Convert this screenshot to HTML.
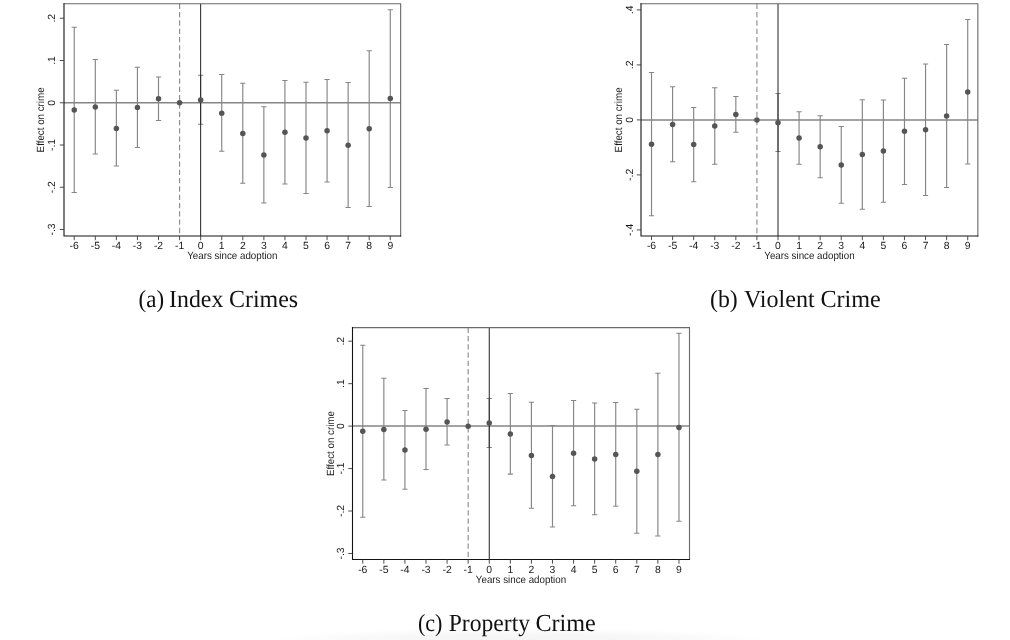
<!DOCTYPE html>
<html><head><meta charset="utf-8"><title>Event study figures</title>
<style>
html,body{margin:0;padding:0;background:#fff;}
body{width:1010px;height:640px;overflow:hidden;position:relative;}
svg{position:absolute;left:0;top:0;display:block;will-change:transform;opacity:0.999;}
svg text{font-family:"Liberation Sans",sans-serif;font-size:10.4px;fill:#1a1a1a;text-rendering:geometricPrecision;}
svg text.cap{font-family:"Liberation Serif",serif;font-size:24.6px;fill:#111;}
.shade{position:absolute;left:270px;top:628px;width:500px;height:12px;background:radial-gradient(ellipse 250px 12px at 50% 100%, rgba(0,0,0,0.045), rgba(0,0,0,0.03) 50%, rgba(0,0,0,0) 100%);}
</style></head>
<body>
<svg width="1010" height="640" viewBox="0 0 1010 640">
<g id="panel-a">
<line x1="179.58" y1="3.75" x2="179.58" y2="236.0" stroke="#8c8c8c" stroke-width="1.15" stroke-dasharray="5.3 3.0"/>
<line x1="64.0" y1="102.75" x2="400.65" y2="102.75" stroke="#858585" stroke-width="1.5"/>
<path d="M74.23 27.25V192.5M71.63 27.25H76.83M71.63 192.5H76.83" stroke="#858585" stroke-width="1.15" fill="none"/>
<path d="M95.30 59.5V154M92.70 59.5H97.90M92.70 154H97.90" stroke="#858585" stroke-width="1.15" fill="none"/>
<path d="M116.37 90.25V166M113.77 90.25H118.97M113.77 166H118.97" stroke="#858585" stroke-width="1.15" fill="none"/>
<path d="M137.44 67.25V147.5M134.84 67.25H140.04M134.84 147.5H140.04" stroke="#858585" stroke-width="1.15" fill="none"/>
<path d="M158.51 77V120.5M155.91 77H161.11M155.91 120.5H161.11" stroke="#858585" stroke-width="1.15" fill="none"/>
<path d="M200.65 75.25V124.25M198.05 75.25H203.25M198.05 124.25H203.25" stroke="#858585" stroke-width="1.15" fill="none"/>
<path d="M221.72 74.5V151.25M219.12 74.5H224.32M219.12 151.25H224.32" stroke="#858585" stroke-width="1.15" fill="none"/>
<path d="M242.79 83.25V183.25M240.19 83.25H245.39M240.19 183.25H245.39" stroke="#858585" stroke-width="1.15" fill="none"/>
<path d="M263.86 106.75V203M261.26 106.75H266.46M261.26 203H266.46" stroke="#858585" stroke-width="1.15" fill="none"/>
<path d="M284.93 80.5V184M282.33 80.5H287.53M282.33 184H287.53" stroke="#858585" stroke-width="1.15" fill="none"/>
<path d="M306.00 82.25V193.5M303.40 82.25H308.60M303.40 193.5H308.60" stroke="#858585" stroke-width="1.15" fill="none"/>
<path d="M327.07 79.5V182M324.47 79.5H329.67M324.47 182H329.67" stroke="#858585" stroke-width="1.15" fill="none"/>
<path d="M348.14 82.5V207.5M345.54 82.5H350.74M345.54 207.5H350.74" stroke="#858585" stroke-width="1.15" fill="none"/>
<path d="M369.21 50.75V206.5M366.61 50.75H371.81M366.61 206.5H371.81" stroke="#858585" stroke-width="1.15" fill="none"/>
<path d="M390.28 9.75V187.5M387.68 9.75H392.88M387.68 187.5H392.88" stroke="#858585" stroke-width="1.15" fill="none"/>
<line x1="200.65" y1="3.75" x2="200.65" y2="236.0" stroke="#222" stroke-width="1"/>
<circle cx="74.23" cy="110" r="2.75" fill="#555555"/>
<circle cx="95.30" cy="107" r="2.75" fill="#555555"/>
<circle cx="116.37" cy="128.5" r="2.75" fill="#555555"/>
<circle cx="137.44" cy="107.5" r="2.75" fill="#555555"/>
<circle cx="158.51" cy="98.75" r="2.75" fill="#555555"/>
<circle cx="179.58" cy="102.75" r="2.75" fill="#555555"/>
<circle cx="200.65" cy="100" r="2.75" fill="#555555"/>
<circle cx="221.72" cy="113.25" r="2.75" fill="#555555"/>
<circle cx="242.79" cy="133.5" r="2.75" fill="#555555"/>
<circle cx="263.86" cy="155" r="2.75" fill="#555555"/>
<circle cx="284.93" cy="132.25" r="2.75" fill="#555555"/>
<circle cx="306.00" cy="138" r="2.75" fill="#555555"/>
<circle cx="327.07" cy="130.75" r="2.75" fill="#555555"/>
<circle cx="348.14" cy="145.25" r="2.75" fill="#555555"/>
<circle cx="369.21" cy="128.75" r="2.75" fill="#555555"/>
<circle cx="390.28" cy="98.5" r="2.75" fill="#555555"/>
<path d="M64.0 3.75H400.65V236.0" fill="none" stroke="#686868" stroke-width="1.1" stroke-linecap="square"/>
<path d="M64.0 3.75V236.0H400.65" fill="none" stroke="#141414" stroke-width="1.1" stroke-linecap="square"/>
<path d="M74.23 236.0v4.2M95.30 236.0v4.2M116.37 236.0v4.2M137.44 236.0v4.2M158.51 236.0v4.2M179.58 236.0v4.2M200.65 236.0v4.2M221.72 236.0v4.2M242.79 236.0v4.2M263.86 236.0v4.2M284.93 236.0v4.2M306.00 236.0v4.2M327.07 236.0v4.2M348.14 236.0v4.2M369.21 236.0v4.2M390.28 236.0v4.2M64.0 18.25h-4.2M64.0 60.50h-4.2M64.0 102.75h-4.2M64.0 145.00h-4.2M64.0 187.25h-4.2M64.0 229.50h-4.2" stroke="#3a3a3a" stroke-width="0.9" fill="none"/>
<text x="74.23" y="248.7" text-anchor="middle">-6</text>
<text x="95.30" y="248.7" text-anchor="middle">-5</text>
<text x="116.37" y="248.7" text-anchor="middle">-4</text>
<text x="137.44" y="248.7" text-anchor="middle">-3</text>
<text x="158.51" y="248.7" text-anchor="middle">-2</text>
<text x="179.58" y="248.7" text-anchor="middle">-1</text>
<text x="200.65" y="248.7" text-anchor="middle">0</text>
<text x="221.72" y="248.7" text-anchor="middle">1</text>
<text x="242.79" y="248.7" text-anchor="middle">2</text>
<text x="263.86" y="248.7" text-anchor="middle">3</text>
<text x="284.93" y="248.7" text-anchor="middle">4</text>
<text x="306.00" y="248.7" text-anchor="middle">5</text>
<text x="327.07" y="248.7" text-anchor="middle">6</text>
<text x="348.14" y="248.7" text-anchor="middle">7</text>
<text x="369.21" y="248.7" text-anchor="middle">8</text>
<text x="390.28" y="248.7" text-anchor="middle">9</text>
<text x="232.32" y="259.2" text-anchor="middle" textLength="90.3" lengthAdjust="spacingAndGlyphs">Years since adoption</text>
<text transform="translate(54.7 18.25) rotate(-90)" text-anchor="middle">.2</text>
<text transform="translate(54.7 60.50) rotate(-90)" text-anchor="middle">.1</text>
<text transform="translate(54.7 102.75) rotate(-90)" text-anchor="middle">0</text>
<text transform="translate(54.7 145.00) rotate(-90)" text-anchor="middle">-.1</text>
<text transform="translate(54.7 187.25) rotate(-90)" text-anchor="middle">-.2</text>
<text transform="translate(54.7 229.50) rotate(-90)" text-anchor="middle">-.3</text>
<text transform="translate(44.3 119.88) rotate(-90)" text-anchor="middle" textLength="65" lengthAdjust="spacingAndGlyphs">Effect on crime</text>
</g>
<g id="panel-b">
<line x1="756.92" y1="3.75" x2="756.92" y2="236.0" stroke="#8c8c8c" stroke-width="1.15" stroke-dasharray="5.3 3.0"/>
<line x1="641.0" y1="119.9" x2="977.85" y2="119.9" stroke="#858585" stroke-width="1.5"/>
<path d="M651.52 72.5V215.75M648.92 72.5H654.12M648.92 215.75H654.12" stroke="#858585" stroke-width="1.15" fill="none"/>
<path d="M672.60 86.75V161.75M670.00 86.75H675.20M670.00 161.75H675.20" stroke="#858585" stroke-width="1.15" fill="none"/>
<path d="M693.68 107.5V181.75M691.08 107.5H696.28M691.08 181.75H696.28" stroke="#858585" stroke-width="1.15" fill="none"/>
<path d="M714.76 87.75V164.25M712.16 87.75H717.36M712.16 164.25H717.36" stroke="#858585" stroke-width="1.15" fill="none"/>
<path d="M735.84 96.5V132.25M733.24 96.5H738.44M733.24 132.25H738.44" stroke="#858585" stroke-width="1.15" fill="none"/>
<path d="M778.00 93.5V151.5M775.40 93.5H780.60M775.40 151.5H780.60" stroke="#858585" stroke-width="1.15" fill="none"/>
<path d="M799.08 111.75V164.25M796.48 111.75H801.68M796.48 164.25H801.68" stroke="#858585" stroke-width="1.15" fill="none"/>
<path d="M820.16 115.75V177.75M817.56 115.75H822.76M817.56 177.75H822.76" stroke="#858585" stroke-width="1.15" fill="none"/>
<path d="M841.24 126.5V203.25M838.64 126.5H843.84M838.64 203.25H843.84" stroke="#858585" stroke-width="1.15" fill="none"/>
<path d="M862.32 99.75V209.25M859.72 99.75H864.92M859.72 209.25H864.92" stroke="#858585" stroke-width="1.15" fill="none"/>
<path d="M883.40 100V202.25M880.80 100H886.00M880.80 202.25H886.00" stroke="#858585" stroke-width="1.15" fill="none"/>
<path d="M904.48 78.25V184.5M901.88 78.25H907.08M901.88 184.5H907.08" stroke="#858585" stroke-width="1.15" fill="none"/>
<path d="M925.56 64V195.5M922.96 64H928.16M922.96 195.5H928.16" stroke="#858585" stroke-width="1.15" fill="none"/>
<path d="M946.64 44.5V187.5M944.04 44.5H949.24M944.04 187.5H949.24" stroke="#858585" stroke-width="1.15" fill="none"/>
<path d="M967.72 19.5V164M965.12 19.5H970.32M965.12 164H970.32" stroke="#858585" stroke-width="1.15" fill="none"/>
<line x1="778.00" y1="3.75" x2="778.00" y2="236.0" stroke="#222" stroke-width="1"/>
<circle cx="651.52" cy="144.25" r="2.75" fill="#555555"/>
<circle cx="672.60" cy="124.5" r="2.75" fill="#555555"/>
<circle cx="693.68" cy="144.5" r="2.75" fill="#555555"/>
<circle cx="714.76" cy="126" r="2.75" fill="#555555"/>
<circle cx="735.84" cy="114.5" r="2.75" fill="#555555"/>
<circle cx="756.92" cy="120" r="2.75" fill="#555555"/>
<circle cx="778.00" cy="122.75" r="2.75" fill="#555555"/>
<circle cx="799.08" cy="138.1" r="2.75" fill="#555555"/>
<circle cx="820.16" cy="146.75" r="2.75" fill="#555555"/>
<circle cx="841.24" cy="165" r="2.75" fill="#555555"/>
<circle cx="862.32" cy="154.5" r="2.75" fill="#555555"/>
<circle cx="883.40" cy="151" r="2.75" fill="#555555"/>
<circle cx="904.48" cy="131.25" r="2.75" fill="#555555"/>
<circle cx="925.56" cy="129.75" r="2.75" fill="#555555"/>
<circle cx="946.64" cy="116" r="2.75" fill="#555555"/>
<circle cx="967.72" cy="92" r="2.75" fill="#555555"/>
<path d="M641.0 3.75H977.85V236.0" fill="none" stroke="#686868" stroke-width="1.1" stroke-linecap="square"/>
<path d="M641.0 3.75V236.0H977.85" fill="none" stroke="#141414" stroke-width="1.1" stroke-linecap="square"/>
<path d="M651.52 236.0v4.2M672.60 236.0v4.2M693.68 236.0v4.2M714.76 236.0v4.2M735.84 236.0v4.2M756.92 236.0v4.2M778.00 236.0v4.2M799.08 236.0v4.2M820.16 236.0v4.2M841.24 236.0v4.2M862.32 236.0v4.2M883.40 236.0v4.2M904.48 236.0v4.2M925.56 236.0v4.2M946.64 236.0v4.2M967.72 236.0v4.2M641.0 9.90h-4.2M641.0 64.90h-4.2M641.0 119.90h-4.2M641.0 174.90h-4.2M641.0 229.90h-4.2" stroke="#3a3a3a" stroke-width="0.9" fill="none"/>
<text x="651.52" y="248.7" text-anchor="middle">-6</text>
<text x="672.60" y="248.7" text-anchor="middle">-5</text>
<text x="693.68" y="248.7" text-anchor="middle">-4</text>
<text x="714.76" y="248.7" text-anchor="middle">-3</text>
<text x="735.84" y="248.7" text-anchor="middle">-2</text>
<text x="756.92" y="248.7" text-anchor="middle">-1</text>
<text x="778.00" y="248.7" text-anchor="middle">0</text>
<text x="799.08" y="248.7" text-anchor="middle">1</text>
<text x="820.16" y="248.7" text-anchor="middle">2</text>
<text x="841.24" y="248.7" text-anchor="middle">3</text>
<text x="862.32" y="248.7" text-anchor="middle">4</text>
<text x="883.40" y="248.7" text-anchor="middle">5</text>
<text x="904.48" y="248.7" text-anchor="middle">6</text>
<text x="925.56" y="248.7" text-anchor="middle">7</text>
<text x="946.64" y="248.7" text-anchor="middle">8</text>
<text x="967.72" y="248.7" text-anchor="middle">9</text>
<text x="809.42" y="259.2" text-anchor="middle" textLength="90.3" lengthAdjust="spacingAndGlyphs">Years since adoption</text>
<text transform="translate(632.8 9.90) rotate(-90)" text-anchor="middle">.4</text>
<text transform="translate(632.8 64.90) rotate(-90)" text-anchor="middle">.2</text>
<text transform="translate(632.8 119.90) rotate(-90)" text-anchor="middle">0</text>
<text transform="translate(632.8 174.90) rotate(-90)" text-anchor="middle">-.2</text>
<text transform="translate(632.8 229.90) rotate(-90)" text-anchor="middle">-.4</text>
<text transform="translate(621.8 119.88) rotate(-90)" text-anchor="middle" textLength="65" lengthAdjust="spacingAndGlyphs">Effect on crime</text>
</g>
<g id="panel-c">
<line x1="468.17" y1="327.6" x2="468.17" y2="559.5" stroke="#8c8c8c" stroke-width="1.15" stroke-dasharray="5.3 3.0"/>
<line x1="352.5" y1="426.1" x2="689.5" y2="426.1" stroke="#858585" stroke-width="1.5"/>
<path d="M362.77 345.25V517.25M360.17 345.25H365.37M360.17 517.25H365.37" stroke="#858585" stroke-width="1.15" fill="none"/>
<path d="M383.85 378.25V480M381.25 378.25H386.45M381.25 480H386.45" stroke="#858585" stroke-width="1.15" fill="none"/>
<path d="M404.93 410.5V489.25M402.33 410.5H407.53M402.33 489.25H407.53" stroke="#858585" stroke-width="1.15" fill="none"/>
<path d="M426.01 388.5V469.5M423.41 388.5H428.61M423.41 469.5H428.61" stroke="#858585" stroke-width="1.15" fill="none"/>
<path d="M447.09 398.5V445M444.49 398.5H449.69M444.49 445H449.69" stroke="#858585" stroke-width="1.15" fill="none"/>
<path d="M489.25 398.5V447.5M486.65 398.5H491.85M486.65 447.5H491.85" stroke="#858585" stroke-width="1.15" fill="none"/>
<path d="M510.33 393.5V474.1M507.73 393.5H512.93M507.73 474.1H512.93" stroke="#858585" stroke-width="1.15" fill="none"/>
<path d="M531.41 402.25V508.25M528.81 402.25H534.01M528.81 508.25H534.01" stroke="#858585" stroke-width="1.15" fill="none"/>
<path d="M552.49 425.5V527M549.89 425.5H555.09M549.89 527H555.09" stroke="#858585" stroke-width="1.15" fill="none"/>
<path d="M573.57 400.5V505.75M570.97 400.5H576.17M570.97 505.75H576.17" stroke="#858585" stroke-width="1.15" fill="none"/>
<path d="M594.65 403V514.75M592.05 403H597.25M592.05 514.75H597.25" stroke="#858585" stroke-width="1.15" fill="none"/>
<path d="M615.73 402.5V506.25M613.13 402.5H618.33M613.13 506.25H618.33" stroke="#858585" stroke-width="1.15" fill="none"/>
<path d="M636.81 409.25V533.25M634.21 409.25H639.41M634.21 533.25H639.41" stroke="#858585" stroke-width="1.15" fill="none"/>
<path d="M657.89 373.25V536M655.29 373.25H660.49M655.29 536H660.49" stroke="#858585" stroke-width="1.15" fill="none"/>
<path d="M678.97 333.25V521.25M676.37 333.25H681.57M676.37 521.25H681.57" stroke="#858585" stroke-width="1.15" fill="none"/>
<line x1="489.25" y1="327.6" x2="489.25" y2="559.5" stroke="#222" stroke-width="1"/>
<circle cx="362.77" cy="431.25" r="2.75" fill="#555555"/>
<circle cx="383.85" cy="429.5" r="2.75" fill="#555555"/>
<circle cx="404.93" cy="450" r="2.75" fill="#555555"/>
<circle cx="426.01" cy="429.25" r="2.75" fill="#555555"/>
<circle cx="447.09" cy="422" r="2.75" fill="#555555"/>
<circle cx="468.17" cy="426.25" r="2.75" fill="#555555"/>
<circle cx="489.25" cy="423" r="2.75" fill="#555555"/>
<circle cx="510.33" cy="434" r="2.75" fill="#555555"/>
<circle cx="531.41" cy="455.5" r="2.75" fill="#555555"/>
<circle cx="552.49" cy="476.5" r="2.75" fill="#555555"/>
<circle cx="573.57" cy="453.25" r="2.75" fill="#555555"/>
<circle cx="594.65" cy="459" r="2.75" fill="#555555"/>
<circle cx="615.73" cy="454.5" r="2.75" fill="#555555"/>
<circle cx="636.81" cy="471.25" r="2.75" fill="#555555"/>
<circle cx="657.89" cy="454.5" r="2.75" fill="#555555"/>
<circle cx="678.97" cy="427.5" r="2.75" fill="#555555"/>
<path d="M352.5 327.6H689.5V559.5" fill="none" stroke="#686868" stroke-width="1.1" stroke-linecap="square"/>
<path d="M352.5 327.6V559.5H689.5" fill="none" stroke="#141414" stroke-width="1.1" stroke-linecap="square"/>
<path d="M362.77 559.5v4.2M383.85 559.5v4.2M404.93 559.5v4.2M426.01 559.5v4.2M447.09 559.5v4.2M468.17 559.5v4.2M489.25 559.5v4.2M510.33 559.5v4.2M531.41 559.5v4.2M552.49 559.5v4.2M573.57 559.5v4.2M594.65 559.5v4.2M615.73 559.5v4.2M636.81 559.5v4.2M657.89 559.5v4.2M678.97 559.5v4.2M352.5 341.20h-4.2M352.5 383.65h-4.2M352.5 426.10h-4.2M352.5 468.55h-4.2M352.5 511.00h-4.2M352.5 553.45h-4.2" stroke="#3a3a3a" stroke-width="0.9" fill="none"/>
<text x="362.77" y="572.7" text-anchor="middle">-6</text>
<text x="383.85" y="572.7" text-anchor="middle">-5</text>
<text x="404.93" y="572.7" text-anchor="middle">-4</text>
<text x="426.01" y="572.7" text-anchor="middle">-3</text>
<text x="447.09" y="572.7" text-anchor="middle">-2</text>
<text x="468.17" y="572.7" text-anchor="middle">-1</text>
<text x="489.25" y="572.7" text-anchor="middle">0</text>
<text x="510.33" y="572.7" text-anchor="middle">1</text>
<text x="531.41" y="572.7" text-anchor="middle">2</text>
<text x="552.49" y="572.7" text-anchor="middle">3</text>
<text x="573.57" y="572.7" text-anchor="middle">4</text>
<text x="594.65" y="572.7" text-anchor="middle">5</text>
<text x="615.73" y="572.7" text-anchor="middle">6</text>
<text x="636.81" y="572.7" text-anchor="middle">7</text>
<text x="657.89" y="572.7" text-anchor="middle">8</text>
<text x="678.97" y="572.7" text-anchor="middle">9</text>
<text x="521.00" y="583.2" text-anchor="middle" textLength="90.3" lengthAdjust="spacingAndGlyphs">Years since adoption</text>
<text transform="translate(343.6 341.20) rotate(-90)" text-anchor="middle">.2</text>
<text transform="translate(343.6 383.65) rotate(-90)" text-anchor="middle">.1</text>
<text transform="translate(343.6 426.10) rotate(-90)" text-anchor="middle">0</text>
<text transform="translate(343.6 468.55) rotate(-90)" text-anchor="middle">-.1</text>
<text transform="translate(343.6 511.00) rotate(-90)" text-anchor="middle">-.2</text>
<text transform="translate(343.6 553.45) rotate(-90)" text-anchor="middle">-.3</text>
<text transform="translate(334.0 443.55) rotate(-90)" text-anchor="middle" textLength="65" lengthAdjust="spacingAndGlyphs">Effect on crime</text>
</g>
<g id="captions">
<text class="cap" x="138.60" y="307.0" textLength="25.50" lengthAdjust="spacingAndGlyphs">(a)</text>
<text class="cap" x="169.10" y="307.0" textLength="54.20" lengthAdjust="spacingAndGlyphs">Index</text>
<text class="cap" x="229.00" y="307.0" textLength="69.20" lengthAdjust="spacingAndGlyphs">Crimes</text>
<text class="cap" x="710.00" y="307.0" textLength="27.80" lengthAdjust="spacingAndGlyphs">(b)</text>
<text class="cap" x="743.90" y="307.0" textLength="70.80" lengthAdjust="spacingAndGlyphs">Violent</text>
<text class="cap" x="820.40" y="307.0" textLength="60.40" lengthAdjust="spacingAndGlyphs">Crime</text>
<text class="cap" x="417.90" y="630.8" textLength="24.50" lengthAdjust="spacingAndGlyphs">(c)</text>
<text class="cap" x="448.70" y="630.8" textLength="81.40" lengthAdjust="spacingAndGlyphs">Property</text>
<text class="cap" x="535.40" y="630.8" textLength="60.40" lengthAdjust="spacingAndGlyphs">Crime</text>
</g>
</svg>
<div class="shade"></div>
</body></html>
